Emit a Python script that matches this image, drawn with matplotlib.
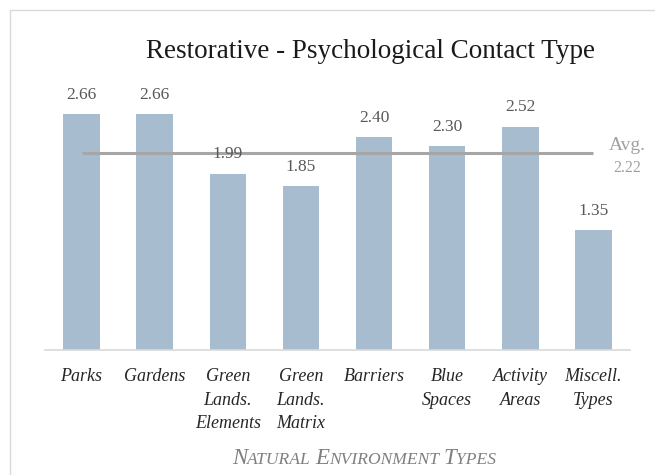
import matplotlib
matplotlib.use("Agg")
import matplotlib.pyplot as plt
import matplotlib.patches as patches
from matplotlib.offsetbox import TextArea, HPacker, AnchoredOffsetbox

categories = ["Parks", "Gardens", "Green\nLands.\nElements", "Green\nLands.\nMatrix",
              "Barriers", "Blue\nSpaces", "Activity\nAreas", "Miscell.\nTypes"]
values = [2.66, 2.66, 1.99, 1.85, 2.40, 2.30, 2.52, 1.35]
avg_value = 2.22

SERIF = ["Liberation Serif", "DejaVu Serif"]
BAR_COLOR = "#a7bccf"
GREY_TXT = "#595959"
AVG_GREY = "#a0a0a0"

fig = plt.figure(figsize=(6.55, 4.75), dpi=100)
fig.patch.set_facecolor("white")

# light frame around the chart area
fig.add_artist(patches.Rectangle((10 / 655, -0.1), 1.2, 1 - 10 / 475 + 0.1,
                                 transform=fig.transFigure, fill=False,
                                 edgecolor="#d9d9d9", lw=1.0))

ax = fig.add_axes([45 / 655, 125 / 475, 585 / 655, 266 / 475])
x = list(range(len(categories)))
ax.bar(x, values, width=0.5, color=BAR_COLOR, zorder=2)
ax.set_xlim(-0.5, len(categories) - 0.5)
ax.set_ylim(0, 3.0)

for xi, v in zip(x, values):
    ax.annotate(f"{v:.2f}", (xi, v), xytext=(0, 8), textcoords="offset points",
                ha="center", va="bottom", fontsize=12.5, color=GREY_TXT,
                family=SERIF, zorder=5)

# average line across the bar centres
ax.plot([x[0], x[-1]], [avg_value, avg_value], color="#a6a6a6", lw=2.2,
        solid_capstyle="butt", zorder=3)
fig.text(627 / 655, 1 - 145 / 475, "Avg.", ha="center", va="center",
         fontsize=14, color=AVG_GREY, family=SERIF)
fig.text(627 / 655, 1 - 168 / 475, f"{avg_value:.2f}", ha="center", va="center",
         fontsize=11.5, color=AVG_GREY, family=SERIF)

for s in ["top", "right", "left"]:
    ax.spines[s].set_visible(False)
ax.spines["bottom"].set_color("#d9d9d9")
ax.spines["bottom"].set_linewidth(1.2)
ax.set_yticks([])
ax.set_xticks(x)
ax.set_xticklabels(categories, fontsize=13, style="italic", family=SERIF,
                   color="#262626", linespacing=1.5, va="top")
ax.tick_params(axis="x", length=0, pad=13)

fig.text(370 / 655, 1 - 52 / 475, "Restorative - Psychological Contact Type",
         ha="center", va="center", fontsize=19.5, family=SERIF, color="#1a1a1a")

# small-caps axis title
parts = [("N", 16.5), ("ATURAL ", 12.6), ("E", 16.5), ("NVIRONMENT ", 12.6),
         ("T", 16.5), ("YPES", 12.6)]
boxes = [TextArea(t, textprops=dict(fontsize=s, style="italic", family=SERIF,
                                    color="#7f7f7f")) for t, s in parts]
pack = HPacker(children=boxes, align="baseline", pad=0, sep=0)
anch = AnchoredOffsetbox(loc="center", child=pack, frameon=False,
                         bbox_to_anchor=(364 / 655, 1 - 459 / 475),
                         bbox_transform=fig.transFigure, borderpad=0, pad=0)
fig.add_artist(anch)

fig.savefig("out.png", dpi=100)
